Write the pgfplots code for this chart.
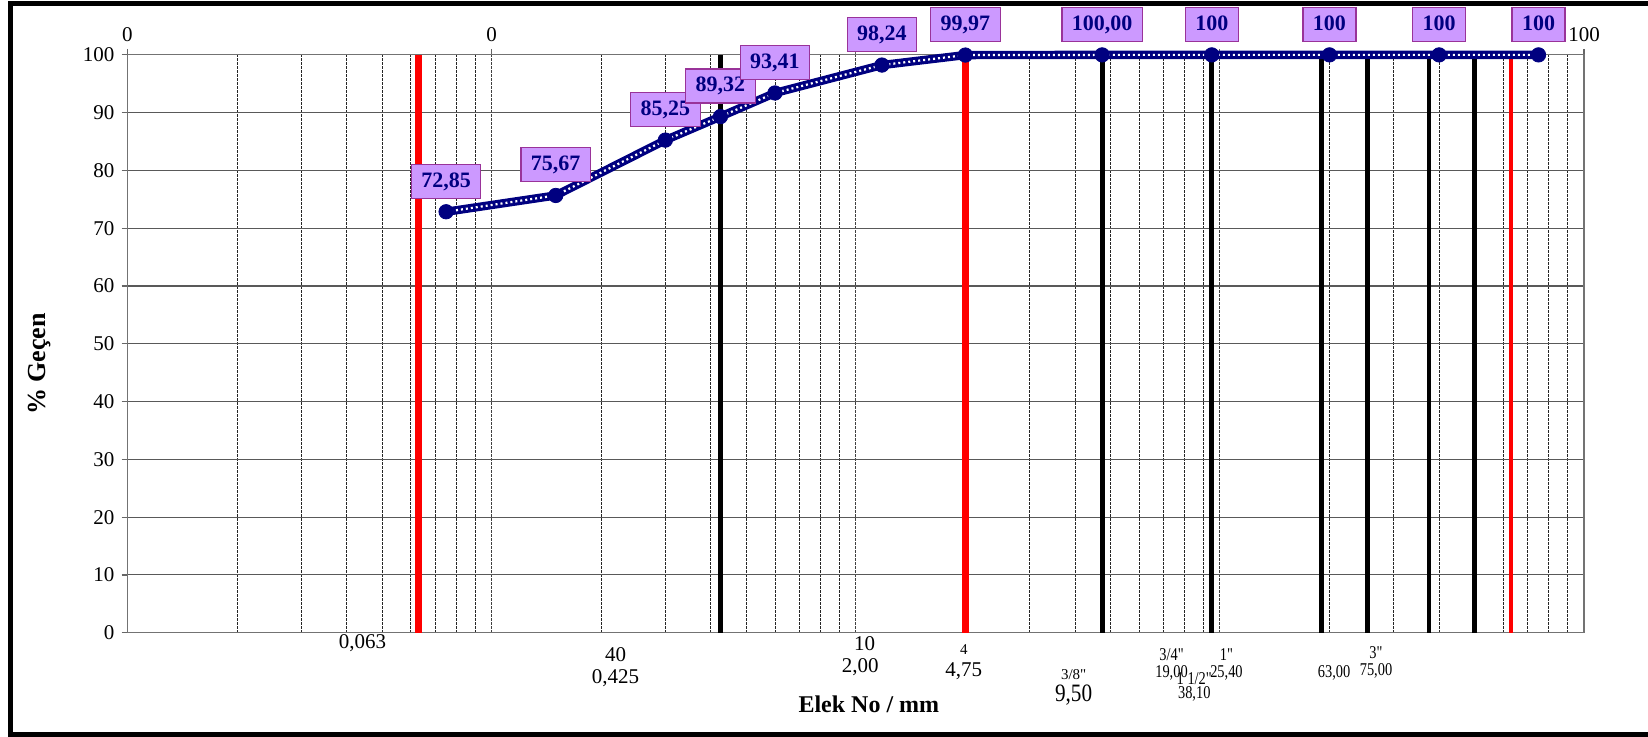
\documentclass[border=0pt]{standalone}
\usepackage{fontspec}
\setmainfont{Liberation Serif}
\newfontfamily\qfont{Liberation Serif}[Ligatures=TeXOff]
\usepackage{graphicx}
\usepackage{pgfplots}
\pgfplotsset{compat=1.18}
\definecolor{navy}{RGB}{0,0,128}
\definecolor{boxfill}{RGB}{204,153,255}
\definecolor{boxdraw}{RGB}{153,51,153}
\definecolor{exred}{RGB}{255,0,0}

\pgfplotstableread{
x y lab
0.075 72.85 72,85
0.15 75.67 75,67
0.3 85.25 85,25
0.425 89.32 89,32
0.6 93.41 93,41
1.18 98.24 98,24
2.0 99.97 99,97
4.75 100.00 100,00
9.5 100 100
20 100 100
40 100 100
75 100 100
}\gradation

\begin{document}
\begin{tikzpicture}
\useasboundingbox (0,0) rectangle (824pt,368.5pt);
\draw[line width=2.5pt] (840pt,366.6pt) -- (5pt,366.6pt) -- (5pt,1.25pt) -- (840pt,1.25pt);
\begin{axis}[
  at={(63.75pt,52.15pt)}, anchor=south west,
  scale only axis, width=728.25pt, height=288.9pt,
  xmode=log, xmin=0.01, xmax=100, ymin=0, ymax=100,
  clip=false,
  xtick={0.01,0.1,1,10,100}, xticklabels={0,0,1,10,100},
  minor xtick={0.02,0.03,0.04,0.05,0.06,0.07,0.08,0.09,0.2,0.3,0.4,0.5,0.6,0.7,0.8,0.9,2,3,4,5,6,7,8,9,20,30,40,50,60,70,80,90},
  xtick pos=right, xticklabel pos=right,
  ytick={0,10,...,100}, ytick pos=left,
  tick align=outside, major tick length=3pt, minor tick length=0pt,
  xmajorgrids, xminorgrids, ymajorgrids,
  x grid style={black!75, line width=0.4pt, dash pattern=on 1.2pt off 0.8pt},
  minor x grid style={black!85, line width=0.4pt, dash pattern=on 1.2pt off 0.8pt},
  y grid style={black!65, line width=0.55pt},
  axis line style={black!55, line width=0.6pt},
  major tick style={black!60, line width=0.6pt},
  /pgf/number format/assume math mode=true,
  ticklabel style={font=\fontsize{10.5}{12}\selectfont},
  xlabel={Elek No / mm},
  ylabel={\% Geçen},
  xlabel style={at={(axis description cs:0.509,-0.1234)}, anchor=center, font=\bfseries\fontsize{12}{14}\selectfont},
  ylabel style={at={(axis description cs:-0.0601,0.465)}, anchor=center, font=\bfseries\fontsize{13}{15}\selectfont},
]
% sieve marker lines
\addplot[exred, line width=3.6pt, no marks] coordinates {(0.063,0) (0.063,100)};
\addplot[black, line width=2.5pt, no marks] coordinates {(0.425,0) (0.425,100)};
\addplot[exred, line width=3.6pt, no marks] coordinates {(2.0,0) (2.0,100)};
\addplot[black, line width=2.4pt, no marks] coordinates {(4.75,0) (4.75,100)};
\addplot[black, line width=2.3pt, no marks] coordinates {(9.5,0) (9.5,100)};
\addplot[black, line width=2.3pt, no marks] coordinates {(19.0,0) (19.0,100)};
\addplot[black, line width=2.3pt, no marks] coordinates {(25.4,0) (25.4,100)};
\addplot[black, line width=2.3pt, no marks] coordinates {(37.5,0) (37.5,100)};
\addplot[black, line width=2.3pt, no marks] coordinates {(50,0) (50,100)};
\addplot[exred, line width=2.2pt, no marks] coordinates {(63,0) (63,100)};
% gradation curve
\addplot[navy, line width=4.2pt, no marks] table[x=x, y=y] {\gradation};
\addplot[white, line width=1.1pt, dash pattern=on 1pt off 1.5pt, no marks] table[x=x, y=y] {\gradation};
\addplot[navy, only marks, mark=*, mark size=3.6pt,
  point meta=explicit symbolic, nodes near coords,
  every node near coord/.append style={anchor=south, yshift=6.5pt, fill=boxfill, draw=boxdraw, line width=0.6pt,
    text=navy, font=\bfseries\fontsize{11}{13}\selectfont, inner xsep=5pt, inner ysep=4pt,
    text height=7.5pt, text depth=1.5pt}]
  table[x=x, y=y, meta=lab] {\gradation};
% sieve labels below the axis
\begin{scope}[every node/.style={anchor=center, inner sep=0pt, font=\qfont\fontsize{10.5}{12}\selectfont}]
\node at (axis description cs:0.1613,-0.0183) {0,063};
\node at (axis description cs:0.3351,-0.0386) {40};
\node at (axis description cs:0.3351,-0.0789) {0,425};
\node at (axis description cs:0.5061,-0.0196) {10};
\node at (axis description cs:0.5031,-0.0588) {2,00};
\node[font=\qfont\fontsize{7.5}{9}\selectfont] at (axis description cs:0.5742,-0.0287) {4};
\node at (axis description cs:0.5742,-0.0658) {4,75};
\node[font=\qfont\fontsize{7.5}{9}\selectfont] at (axis description cs:0.6496,-0.0732) {3/8"};
\node[font=\qfont\fontsize{12.5}{14}\selectfont] at (axis description cs:0.6496,-0.1078) {\scalebox{0.85}[1]{9,50}};
\node[font=\qfont\fontsize{9}{11}\selectfont] at (axis description cs:0.7168,-0.0386) {\scalebox{0.8}[1]{3/4"}};
\node[font=\qfont\fontsize{9}{11}\selectfont] at (axis description cs:0.7168,-0.0692) {\scalebox{0.8}[1]{19,00}};
\node[font=\qfont\fontsize{9}{11}\selectfont] at (axis description cs:0.7324,-0.0789) {\scalebox{0.8}[1]{1 1/2"}};
\node[font=\qfont\fontsize{9}{11}\selectfont] at (axis description cs:0.7324,-0.1061) {\scalebox{0.8}[1]{38,10}};
\node[font=\qfont\fontsize{9}{11}\selectfont] at (axis description cs:0.7545,-0.0386) {\scalebox{0.8}[1]{1"}};
\node[font=\qfont\fontsize{9}{11}\selectfont] at (axis description cs:0.7545,-0.0692) {\scalebox{0.8}[1]{25,40}};
\node[font=\qfont\fontsize{9}{11}\selectfont] at (axis description cs:0.8284,-0.0692) {\scalebox{0.8}[1]{63,00}};
\node[font=\qfont\fontsize{9}{11}\selectfont] at (axis description cs:0.8572,-0.0346) {\scalebox{0.8}[1]{3"}};
\node[font=\qfont\fontsize{9}{11}\selectfont] at (axis description cs:0.8572,-0.0658) {\scalebox{0.8}[1]{75,00}};
\end{scope}
\end{axis}
\end{tikzpicture}
\end{document}
